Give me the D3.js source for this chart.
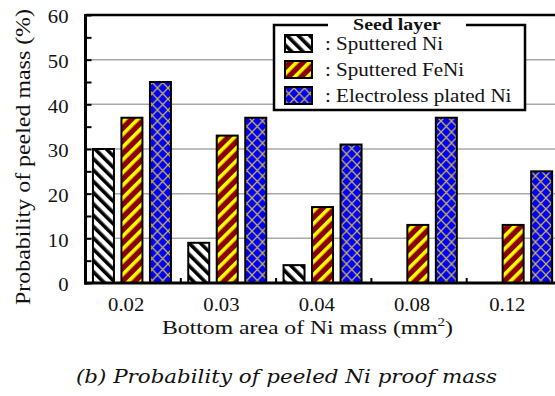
<!DOCTYPE html>
<html><head><meta charset="utf-8">
<script src="https://cdn.jsdelivr.net/npm/d3@7"></script>
<style>body{margin:0;background:#fff}svg{display:block}
.sf{font-family:"Liberation Serif","Times New Roman",Tinos,"DejaVu Serif",serif}
.cap{font-family:"DejaVu Serif","Liberation Serif",serif;font-style:italic}
</style>
</head><body>
<svg id="c" width="555" height="396"></svg>
<script>
const categories = ["0.02","0.03","0.04","0.08","0.12"];
const seriesNames = ["Sputtered Ni","Sputtered FeNi","Electroless plated Ni"];
const sputteredNi = [30, 9, 4, 0, 0];
const sputteredFeNi = [37, 33, 17, 13, 13];
const electrolessNi = [45, 37, 31, 37, 25];
const yTicks = [0,10,20,30,40,50,60];
const seriesValues = [sputteredNi, sputteredFeNi, electrolessNi];

const svg = d3.select("#c");
const SX = 1.15;
const L = 85.5, R = 562, T = 15, B = 283;

const defs = svg.append("defs");
const p1 = defs.append("pattern").attr("id","pWhite").attr("patternUnits","userSpaceOnUse")
  .attr("width",8).attr("height",8).attr("patternTransform","rotate(-45)");
p1.append("rect").attr("width",8).attr("height",8).attr("fill","#fff");
p1.append("rect").attr("width",3.6).attr("height",8).attr("fill","#000");
const p2 = defs.append("pattern").attr("id","pRed").attr("patternUnits","userSpaceOnUse")
  .attr("width",9).attr("height",9).attr("patternTransform","rotate(45)");
p2.append("rect").attr("width",9).attr("height",9).attr("fill","#8b0000");
p2.append("rect").attr("width",3.6).attr("height",9).attr("fill","#ffff00");
const p3 = defs.append("pattern").attr("id","pBlue").attr("patternUnits","userSpaceOnUse")
  .attr("width",10.5).attr("height",11);
p3.append("rect").attr("width",10.5).attr("height",11).attr("fill","#0000ff");
p3.append("path").attr("d","M0,0L10.5,11M10.5,0L0,11").attr("stroke","#c8b446").attr("stroke-width",1.3);
const fills = ["url(#pWhite)","url(#pRed)","url(#pBlue)"];

const x = d3.scaleBand().domain(categories).range([L, R]).paddingInner(0).paddingOuter(0);
const xs = d3.scaleBand().domain(seriesNames).range([0, x.bandwidth()])
  .paddingInner(0.263).paddingOuter(0.3035).align(0.43);
const y = d3.scaleLinear().domain([0,60]).range([B, T]);

svg.append("g").selectAll("line").data(yTicks.filter(v=>v>0 && v<60)).join("line")
  .attr("x1",L).attr("x2",R).attr("y1",d=>y(d)).attr("y2",d=>y(d))
  .attr("stroke","#a8a8a8").attr("stroke-width",1.5);

const rows = [];
categories.forEach((c,i)=>seriesNames.forEach((s,j)=>{
  if (seriesValues[j][i] > 0) rows.push({c, s, j, v: seriesValues[j][i]});
}));
svg.append("g").selectAll("rect").data(rows).join("rect")
  .attr("x", d=>x(d.c)+xs(d.s)).attr("width", xs.bandwidth())
  .attr("y", d=>y(d.v)).attr("height", d=>y(0)-y(d.v))
  .attr("fill", d=>fills[d.j]).attr("stroke","#000").attr("stroke-width",2);

const yt = svg.append("g").attr("transform",`translate(${L},0)`)
  .call(d3.axisLeft(y).tickValues(d3.range(0,61,5)).tickSize(-6).tickFormat(""));
yt.select(".domain").remove();
yt.selectAll("line").attr("stroke","#000").attr("stroke-width",2);

const yl = svg.append("g").attr("transform",`translate(${L},0)`)
  .call(d3.axisLeft(y).tickValues(yTicks).tickSize(0).tickPadding(0));
yl.attr("font-family",null).attr("font-size",null);
yl.select(".domain").remove();
yl.selectAll("text").attr("class","sf").style("font-size","18px").attr("fill","#111")
  .attr("x", -17/SX).attr("dy","0.36em").attr("dx",0)
  .attr("transform",`translate(0,1.5) scale(${SX},1)`);

svg.append("g").selectAll("line").data(categories.slice(1)).join("line")
  .attr("x1",d=>x(d)).attr("x2",d=>x(d)).attr("y1",B).attr("y2",B-5)
  .attr("stroke","#000").attr("stroke-width",2);

const xl = svg.append("g").attr("transform",`translate(0,${B})`)
  .call(d3.axisBottom(x).tickSize(0).tickPadding(0));
xl.attr("font-family",null).attr("font-size",null);
xl.select(".domain").remove();
xl.selectAll("text").attr("class","sf").style("font-size","18px").attr("fill","#111")
  .attr("y",0).attr("dy",0)
  .attr("transform",`translate(-7,28) scale(${SX},1)`);

svg.append("line").attr("x1",L).attr("x2",R).attr("y1",T).attr("y2",T).attr("stroke","#000").attr("stroke-width",2.5);
svg.append("line").attr("x1",R).attr("x2",R).attr("y1",T).attr("y2",B).attr("stroke","#000").attr("stroke-width",2.5);
svg.append("line").attr("x1",L).attr("x2",L).attr("y1",T-1).attr("y2",B+1.5).attr("stroke","#000").attr("stroke-width",3);
svg.append("line").attr("x1",L-1.5).attr("x2",R).attr("y1",B).attr("y2",B).attr("stroke","#000").attr("stroke-width",3);

svg.append("text").attr("class","sf").attr("transform","translate(30,157) rotate(-90)")
  .attr("text-anchor","middle").style("font-size","21px").attr("fill","#111")
  .attr("textLength",296).attr("lengthAdjust","spacingAndGlyphs")
  .text("Probability of peeled mass (%)");
const xt = svg.append("text").attr("class","sf").attr("x",162).attr("y",334)
  .style("font-size","19px").attr("fill","#111");
xt.append("tspan").text("Bottom area of Ni mass (mm");
xt.append("tspan").style("font-size","12px").attr("dy",-8).text("2");
xt.append("tspan").attr("dy",8).text(")");
xt.attr("textLength",291).attr("lengthAdjust","spacingAndGlyphs");

// legend
const LSX = 1.17;
const lg = svg.append("g");
lg.append("rect").attr("x",274).attr("y",25).attr("width",251).attr("height",85).attr("fill","#fff");
lg.append("path").attr("d","M328,25H274V110H525V25H466").attr("fill","none").attr("stroke","#000").attr("stroke-width",2.5);
function stext(t, xx, yy, opts={}) {
  return lg.append("text").attr("class","sf").attr("transform",`translate(${xx},${yy}) scale(${LSX},1)`)
    .style("font-size",(opts.size||18)+"px").attr("fill","#111")
    .style("font-weight",opts.bold?"bold":"normal").attr("text-anchor",opts.anchor||"start").text(t);
}
const swY = [35, 61, 87];
seriesNames.forEach((s,j)=>{
  lg.append("rect").attr("x",285).attr("y",swY[j]).attr("width",27).attr("height",17)
    .attr("fill",fills[j]).attr("stroke","#000").attr("stroke-width",2);
});
stext(": Sputtered Ni", 325, 50);
stext(": Sputtered FeNi", 325, 76);
stext(": Electroless plated Ni", 325, 102);
stext("Seed layer", 397, 30, {bold:true, anchor:"middle", size:17});

svg.append("text").attr("class","cap").attr("x",76).attr("y",383)
  .style("font-size","18px").attr("fill","#111")
  .attr("textLength",421).attr("lengthAdjust","spacingAndGlyphs")
  .text("(b) Probability of peeled Ni proof mass");
</script>
</body></html>
